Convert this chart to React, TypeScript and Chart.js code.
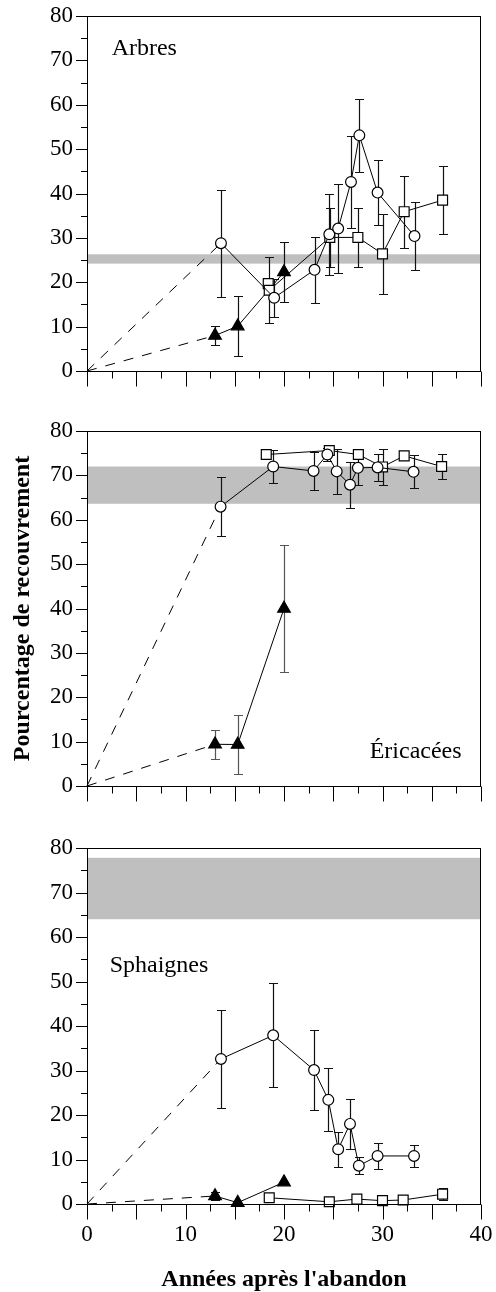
import React, { useEffect, useRef } from "react";
import { Chart, registerables } from "chart.js";

Chart.register(...registerables);

const FONT = "'Liberation Serif', 'Times New Roman', serif";

// ---- axis ranges / ticks ----
const X_RANGE = [0, 40];
const Y_RANGE = [0, 80];
const X_LABEL_STEP = 10;
const Y_LABEL_STEP = 10;
const X_MINOR_STEP = 2.5;
const Y_MINOR_STEP = 5;

const X_TITLE = "Années après l'abandon";
const Y_TITLE = "Pourcentage de recouvrement";

// ---- Arbres ----
const arbCircX = [13.6, 19.0, 23.1, 24.6, 25.5, 26.8, 27.65, 29.5, 33.25];
const arbCircY = [28.8, 16.5, 22.8, 30.8, 32.1, 42.6, 53.1, 40.2, 30.4];
const arbCircErr = [12.1, 4.3, 7.5, 9.2, 10.0, 10.3, 8.2, 7.3, 7.6];
const arbSqX = [18.4, 18.5, 24.65, 27.5, 30.0, 32.2, 36.1];
const arbSqY = [19.7, 18.2, 30.1, 30.1, 26.4, 35.9, 38.5];
const arbSqErr = [0, 7.4, 6.7, 6.6, 9.0, 8.1, 7.7];
const arbTriX = [13.0, 15.3, 20.0];
const arbTriY = [8.0, 10.1, 22.3];
const arbTriErr = [2.2, 6.8, 6.7];
const arbBand = [24.2, 26.3];

// ---- Éricacées ----
const ericCircX = [13.56, 18.9, 23.0, 24.4, 25.35, 26.7, 27.5, 29.5, 33.15];
const ericCircY = [62.95, 72.0, 71.0, 74.7, 70.9, 67.9, 71.7, 71.8, 70.8];
const ericCircErr = [6.65, 3.7, 4.2, 1.5, 5.0, 5.15, 3.8, 3.0, 3.7];
const ericSqX = [18.2, 24.6, 27.55, 30.0, 32.2, 36.0];
const ericSqY = [74.7, 75.6, 74.7, 71.9, 74.4, 72.0];
const ericSqErr = [0, 0, 0, 4.0, 0, 2.9];
const ericTriX = [13.0, 15.3, 20.0];
const ericTriY = [9.4, 9.35, 40.0];
const ericTriErr = [3.3, 6.65, 14.26];
const ericBand = [63.6, 72.0];

// ---- Sphaignes ----
const sphCircX = [13.6, 18.9, 23.05, 24.5, 25.5, 26.7, 27.6, 29.5, 33.2];
const sphCircY = [32.6, 37.9, 30.1, 23.4, 12.3, 18.0, 8.6, 10.8, 10.8];
const sphCircErr = [11.1, 11.7, 8.9, 7.1, 3.9, 5.7, 1.9, 3.0, 2.4];
const sphSqX = [18.5, 24.6, 27.4, 30.0, 32.1, 36.1];
const sphSqY = [1.4, 0.5, 1.1, 0.75, 0.9, 2.2];
const sphSqErr = [0, 0, 0, 0, 0, 1.3];
const sphTriX = [13.0, 15.3, 20.0];
const sphTriY = [1.8, 0.3, 4.9];
const sphTriErr = [1.0, 0, 0];
const sphBand = [64.0, 77.8];

type Series = { xs: number[]; ys: number[]; errs: number[] };

interface PanelDef {
  key: string;
  label: string;
  labelAt: [number, number];
  band: number[];
  circ: Series;
  sq: Series;
  tri: Series;
  triErrColor: string;
  top: number;
  height: number;
  padTop: number;
  xAxisH: number;
  xLabels: boolean;
  xTitle: boolean;
  yTitle: boolean;
}

const PANELS: PanelDef[] = [
  {
    key: "arb",
    label: "Arbres",
    labelAt: [2.5, 71.3],
    band: arbBand,
    circ: { xs: arbCircX, ys: arbCircY, errs: arbCircErr },
    sq: { xs: arbSqX, ys: arbSqY, errs: arbSqErr },
    tri: { xs: arbTriX, ys: arbTriY, errs: arbTriErr },
    triErrColor: "#111",
    top: 0,
    height: 400,
    padTop: 16,
    xAxisH: 29,
    xLabels: false,
    xTitle: false,
    yTitle: false,
  },
  {
    key: "eric",
    label: "Éricacées",
    labelAt: [28.7, 6.2],
    band: ericBand,
    circ: { xs: ericCircX, ys: ericCircY, errs: ericCircErr },
    sq: { xs: ericSqX, ys: ericSqY, errs: ericSqErr },
    tri: { xs: ericTriX, ys: ericTriY, errs: ericTriErr },
    triErrColor: "#555",
    top: 400,
    height: 415,
    padTop: 31,
    xAxisH: 29,
    xLabels: false,
    xTitle: false,
    yTitle: true,
  },
  {
    key: "sph",
    label: "Sphaignes",
    labelAt: [2.3, 52.2],
    band: sphBand,
    circ: { xs: sphCircX, ys: sphCircY, errs: sphCircErr },
    sq: { xs: sphSqX, ys: sphSqY, errs: sphSqErr },
    tri: { xs: sphTriX, ys: sphTriY, errs: sphTriErr },
    triErrColor: "#111",
    top: 815,
    height: 477,
    padTop: 33,
    xAxisH: 88,
    xLabels: true,
    xTitle: true,
    yTitle: false,
  },
];

const pts = (xs: number[], ys: number[]) => xs.map((x, i) => ({ x, y: ys[i] }));

function makeDecor(def: PanelDef) {
  return {
    id: "decor_" + def.key,
    beforeDatasetsDraw(chart: any) {
      const { ctx, chartArea: a, scales } = chart;
      const sx = scales.x;
      const sy = scales.y;
      ctx.save();
      // reference band
      const yTop = sy.getPixelForValue(def.band[1]);
      const yBot = sy.getPixelForValue(def.band[0]);
      ctx.fillStyle = "#bfbfbf";
      ctx.fillRect(a.left, yTop, a.right - a.left, yBot - yTop);
      // error bars
      const drawErr = (s: Series, color: string) => {
        ctx.strokeStyle = color;
        ctx.lineWidth = 1.2;
        s.xs.forEach((xv, i) => {
          const e = s.errs[i];
          if (!e) return;
          const px = Math.round(sx.getPixelForValue(xv)) + 0.5;
          const pt = Math.round(sy.getPixelForValue(s.ys[i] + e)) + 0.5;
          const pb = Math.round(sy.getPixelForValue(s.ys[i] - e)) + 0.5;
          ctx.beginPath();
          ctx.moveTo(px, pt);
          ctx.lineTo(px, pb);
          ctx.moveTo(px - 4.5, pt);
          ctx.lineTo(px + 4.5, pt);
          ctx.moveTo(px - 4.5, pb);
          ctx.lineTo(px + 4.5, pb);
          ctx.stroke();
        });
      };
      drawErr(def.tri, def.triErrColor);
      drawErr(def.sq, "#111");
      drawErr(def.circ, "#111");
      ctx.restore();
    },
    afterDraw(chart: any) {
      const { ctx, chartArea: a, scales } = chart;
      const sx = scales.x;
      const sy = scales.y;
      ctx.save();
      ctx.strokeStyle = "#000";
      ctx.lineWidth = 1;
      ctx.strokeRect(a.left + 0.5, a.top + 0.5, a.right - a.left - 1, a.bottom - a.top);
      ctx.beginPath();
      for (let v = Y_RANGE[0]; v <= Y_RANGE[1] + 1e-6; v += Y_MINOR_STEP) {
        const y = Math.round(sy.getPixelForValue(v)) + 0.5;
        const len = v % Y_LABEL_STEP === 0 ? 11 : 6;
        ctx.moveTo(a.left - len, y);
        ctx.lineTo(a.left + 0.5, y);
      }
      const bottom = Math.round(a.bottom) + 0.5;
      for (let v = X_RANGE[0]; v <= X_RANGE[1] + 1e-6; v += X_MINOR_STEP) {
        const x = Math.round(sx.getPixelForValue(v)) + 0.5;
        const len = v % 5 === 0 ? 15 : 7;
        ctx.moveTo(x, bottom);
        ctx.lineTo(x, bottom + len);
      }
      ctx.stroke();
      // panel label
      ctx.fillStyle = "#000";
      ctx.font = `24px ${FONT}`;
      ctx.textAlign = "left";
      ctx.textBaseline = "alphabetic";
      ctx.fillText(def.label, sx.getPixelForValue(def.labelAt[0]), sy.getPixelForValue(def.labelAt[1]));
      ctx.restore();
    },
  };
}

function Panel({ def }: { def: PanelDef }) {
  const ref = useRef<HTMLCanvasElement>(null);
  useEffect(() => {
    if (!ref.current) return;
    const lineBase = {
      showLine: true,
      borderColor: "#000",
      borderWidth: 1,
      clip: false as any,
      pointBorderColor: "#000",
      pointBorderWidth: 1.2,
    };
    const datasets: any[] = [
      {
        ...lineBase,
        data: pts(def.circ.xs, def.circ.ys),
        pointStyle: "circle",
        pointRadius: 5.4,
        pointBackgroundColor: "#fff",
      },
      {
        ...lineBase,
        data: pts(def.sq.xs, def.sq.ys),
        pointStyle: "rect",
        pointRadius: 7,
        pointBackgroundColor: "#fff",
      },
      {
        ...lineBase,
        data: pts(def.tri.xs, def.tri.ys),
        pointStyle: "triangle",
        pointRadius: 7.3,
        pointBackgroundColor: "#000",
      },
      {
        ...lineBase,
        data: [{ x: 0, y: 0 }, { x: def.circ.xs[0], y: def.circ.ys[0] }],
        borderDash: [10, 9],
        pointRadius: 0,
      },
      {
        ...lineBase,
        data: [{ x: 0, y: 0 }, { x: def.tri.xs[0], y: def.tri.ys[0] }],
        borderDash: [10, 9],
        pointRadius: 0,
      },
    ];
    const chart = new Chart(ref.current, {
      type: "scatter",
      data: { datasets },
      options: {
        animation: false,
        responsive: false,
        devicePixelRatio: 1,
        events: [],
        layout: { padding: { top: def.padTop, right: 15, left: 0, bottom: 0 } },
        plugins: {
          legend: { display: false },
          tooltip: { enabled: false },
          title: { display: false },
        },
        scales: {
          x: {
            type: "linear",
            min: X_RANGE[0],
            max: X_RANGE[1],
            grid: { display: false, drawTicks: false },
            border: { display: false },
            ticks: {
              display: def.xLabels,
              stepSize: X_LABEL_STEP,
              padding: 17,
              color: "#000",
              maxRotation: 0,
              autoSkip: false,
              font: { family: FONT, size: 23 },
            },
            title: {
              display: def.xTitle,
              text: X_TITLE,
              color: "#000",
              font: { family: FONT, size: 24, weight: "bold", lineHeight: 1 },
              padding: { top: 0, bottom: 0 },
            },
            afterFit: (s: any) => {
              s.height = def.xAxisH;
              s.paddingLeft = 0;
              s.paddingRight = 0;
            },
          },
          y: {
            type: "linear",
            min: Y_RANGE[0],
            max: Y_RANGE[1],
            grid: { display: false, drawTicks: false },
            border: { display: false },
            ticks: {
              stepSize: Y_LABEL_STEP,
              padding: 14,
              color: "#000",
              autoSkip: false,
              font: { family: FONT, size: 23 },
            },
            title: {
              display: def.yTitle,
              text: Y_TITLE,
              color: "#000",
              font: { family: FONT, size: 24, weight: "bold", lineHeight: 1.2 },
              padding: { top: 8, bottom: 0 },
            },
            afterFit: (s: any) => {
              s.width = 87;
              s.paddingTop = 0;
              s.paddingBottom = 0;
            },
          },
        },
      } as any,
      plugins: [makeDecor(def)],
    });
    return () => chart.destroy();
  }, [def]);
  return (
    <canvas
      ref={ref}
      width={496}
      height={def.height}
      style={{ position: "absolute", left: 0, top: def.top, width: 496, height: def.height }}
    />
  );
}

export default function App() {
  return (
    <div style={{ position: "absolute", left: 0, top: 0, width: 496, height: 1292, background: "#fff" }}>
      {PANELS.map((p) => (
        <Panel key={p.key} def={p} />
      ))}
    </div>
  );
}
